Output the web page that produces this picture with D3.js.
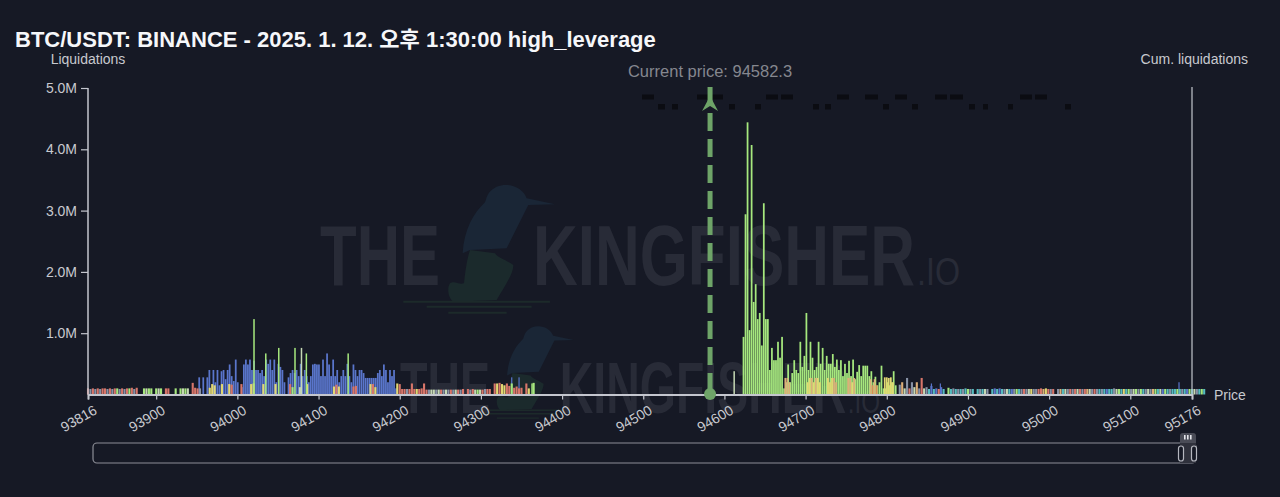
<!DOCTYPE html>
<html><head><meta charset="utf-8">
<script src="https://cdn.jsdelivr.net/npm/d3@7"></script>
<style>
html,body{margin:0;padding:0;background:#161925;}
svg{display:block;font-family:"Liberation Sans",Arial,sans-serif;}
</style></head><body><svg id="c" width="1280" height="497"></svg>
<script>
const titleText = "BTC/USDT: BINANCE - 2025. 1. 12. 오후 1:30:00 high_leverage";
const currentPrice = 94582.3;
const priceDomain = [93816, 95176];
const priceTicks = [93816,93900,94000,94100,94200,94300,94400,94500,94600,94700,94800,94900,95000,95100,95176];
const liqTicks = [1,2,3,4,5];

// Blue band, starts 93953, $2.5 bins (million USD)
const blueValues = [0.28,0,0.28,0,0.28,0.4,0,0.4,0.2,0.4,0.15,0.38,0.4,0.25,0.4,0.49,0.3,0.22,0.57,0.2,0,0.12,0.49,0.57,0.49,0.57,0.4,0.55,0.4,0.4,0.35,0.4,0.3,0.57,0.5,0.57,0.4,0.57,0.2,0.5,0.45,0.4,0.2,0,0.28,0.35,0.4,0.35,0.4,0.3,0.5,0.3,0.4,0.3,0.2,0.3,0.49,0.5,0.49,0.49,0.3,0.57,0.3,0.67,0.49,0.3,0.57,0.3,0.4,0.2,0.3,0.4,0.3,0.5,0.3,0.2,0.49,0.4,0.3,0.4,0.4,0.35,0.27,0.27,0.27,0.27,0.27,0.27,0.35,0.4,0.3,0.49,0.4,0.2,0.4,0.3,0.4,0.1];

// Narrow strips along the axis, $3 bins
const stripAColors = "sgsgsgssgsgslgsgslsgs..lwll.lwl.ss..l.lwlw.";
const stripAValues = [0.1,0.09,0.1,0.09,0.1,0.09,0.1,0.1,0.09,0.1,0.09,0.1,0.1,0.09,0.1,0.09,0.1,0.1,0.11,0.09,0.11,0,0,0.1,0.1,0.1,0.1,0,0.1,0.1,0.1,0,0.1,0.1,0,0,0.1,0,0.1,0.1,0.1,0.1,0];
const stripBColors = "sssg..syyy.yy.yys..ss..yyy..yy...ly....ysl.sw.yy....s....sysy.w..sss....yysy....y..sy";
const stripBValues = [0.19,0.11,0.1,0.1,0.1,0,0,0.11,0.17,0.15,0.16,0,0.17,0.17,0,0.17,0.16,0.12,0,0,0.17,0.16,0,0,0.17,0.18,0.17,0,0,0.17,0.18,0,0,0,0.17,0.16,0,0,0,0,0.17,0.12,0.16,0,0.12,0.14,0,0.17,0.16,0,0,0,0,0.15,0,0,0,0,0.13,0.16,0.13,0.17,0,0.1,0,0,0.13,0.14,0.12,0,0,0,0,0.17,0.17,0.12,0.17,0,0,0,0,0.17,0,0,0.18,0.16];
const stripCColors = "sssgsssyssssgwwgwsgwgsgwsgs.sgswlwsgss.sysyysslssss.sy.l";
const stripCValues = [0.17,0.09,0.09,0.09,0.09,0.18,0.09,0.09,0.09,0.1,0.18,0.08,0.08,0.08,0.08,0.08,0.08,0.08,0.08,0.08,0.08,0.08,0.08,0.08,0.08,0.08,0.09,0,0.09,0.08,0.09,0.08,0.08,0.08,0.08,0.09,0.09,0.09,0,0.18,0.18,0.19,0.17,0.15,0.18,0.14,0.18,0.11,0.13,0.1,0.11,0,0.18,0.1,0,0.19];
const stripDColors = "gpwgsgwpgswgtbtbsbt.ltgtgtgtlgt.tgtwg.tbtbtgwtbgltgsgwyggsspysgs.gptwgsgswsgspwgsgtgtbttgwltytlgwlgltgwgpltwbltgttltgtbltwgtlt";
const stripDValues = [0.16,0.2,0.1,0.27,0.1,0.2,0.12,0.2,0.1,0.27,0.1,0.12,0.09,0.14,0.09,0.1,0.09,0.12,0.09,0,0.11,0.09,0.1,0.09,0.09,0.09,0.09,0.1,0.09,0.09,0.09,0,0.09,0.09,0.09,0.09,0.09,0,0.09,0.1,0.09,0.1,0.09,0.09,0.09,0.09,0.09,0.09,0.09,0.09,0.09,0.09,0.09,0.09,0.09,0.09,0.09,0.09,0.1,0.09,0.1,0.09,0.09,0.09,0,0.09,0.09,0.09,0.09,0.09,0.09,0.09,0.09,0.09,0.09,0.09,0.09,0.09,0.09,0.09,0.09,0.09,0.09,0.09,0.09,0.09,0.09,0.09,0.1,0.09,0.09,0.09,0.09,0.09,0.09,0.09,0.09,0.09,0.09,0.09,0.09,0.09,0.09,0.09,0.09,0.09,0.09,0.09,0.09,0.09,0.09,0.09,0.09,0.09,0.09,0.09,0.09,0.09,0.09,0.09,0.09,0.09,0.09,0.09,0.09,0.09,0.09,0.09,0.09,0.09,0.09];

// Isolated spikes
const leftSpikePrices = [94020.5,94035,94051,94071,94079,94085,94136.5,94363,94612];
const leftSpikeValues = [1.23,0.67,0.76,0.76,0.76,0.67,0.67,0.18,0.38];
const leftSpikeColors = ["l","l","l","l","w","l","l","l","w"];
const blueSpikePrices = [94338,94347,94855,94866,95160];
const blueSpikeValues = [0.28,0.28,0.18,0.18,0.2];

// Green cluster, starts 94623.5, $2.5 bins
const greenValues = [0.94,2.94,4.44,1.05,4.07,1.51,1.8,1.23,1.33,0.8,3.12,1.23,1.23,0.4,0.76,0.56,0.56,0.86,0.6,0.94,0.1,0.2,0.49,0.2,0.35,0.56,0.4,0.35,0.86,0.45,0.63,1.33,0.4,0.86,0.6,0.4,0.45,0.86,0.5,0.76,0.4,0.63,0.5,0.5,0.66,0.45,0.57,0.4,0.56,0.3,0.5,0.35,0.55,0.3,0.57,0.25,0.37,0.48,0.3,0.47,0.47,0.47,0.3,0.38,0.2,0.29,0.15,0.2,0.47,0.1,0.1,0.2,0.15,0.2,0.38,0.15];

// Peach and yellow overlay, starts 94675, $2.5 bins
const peachColors = "ppp........yypypyy...yyypp.....ppyp.......popo...yyyyy";
const peachValues = [0.27,0.27,0.2,0,0,0,0,0,0,0,0,0.2,0.27,0.27,0.2,0.27,0.27,0.2,0,0,0,0.27,0.2,0.27,0.27,0.2,0,0,0,0,0,0.27,0.27,0.2,0.27,0,0,0,0,0,0,0,0.25,0.15,0.25,0.15,0,0,0,0.28,0.28,0.27,0.28,0.2];

// Legend marks above the plot
const legendRow1Start = [642,697,706,766,781,837,865,895,935,950,1020,1035];
const legendRow1End   = [654,706,723,778,793,849,878,907,947,963,1032,1047];
const legendRow2Start = [658,672,729,755,813,825,883,912,969,983,1008,1065];
const legendRow2End   = [665,678,735,761,819,831,889,918,975,988,1013,1071];

const palette = {s:"#d8766a",g:"#8892a6",l:"#a6e87e",w:"#c6d8b4",y:"#e2d872",t:"#56bcc0",b:"#5a76cc",p:"#dcae78",o:"#d98a58"};

const svg = d3.select("#c");
const x = d3.scaleLinear().domain(priceDomain).range([88,1192]);
const y = d3.scaleLinear().domain([0,5]).range([394.5,88]);

// watermark
function watermark(tx,ty,sx,sy){
  const g = svg.append("g").attr("transform",`translate(${tx},${ty}) scale(${sx},${sy})`)
    .attr("fill","#282b37").style("font-family",'"Liberation Sans Narrow","Liberation Sans"').style("font-weight","700");
  g.append("text").attr("x",0).attr("y",62).attr("font-size",86).attr("textLength",120).attr("lengthAdjust","spacingAndGlyphs").text("THE");
  g.append("text").attr("x",213).attr("y",62).attr("font-size",86).attr("textLength",382).attr("lengthAdjust","spacingAndGlyphs").text("KINGFISHER");
  g.append("text").attr("x",597).attr("y",62).attr("font-size",38).attr("font-weight",300).style("font-weight","400").attr("textLength",43).attr("lengthAdjust","spacingAndGlyphs").text(".IO");
}
function bird(transform){
  const g = svg.append("g").attr("transform",transform);
  g.append("path").attr("fill","#1a2636").attr("d","M735,103 L650,85 C640,55 600,35 560,50 C530,65 530,85 525,97 C490,130 462,180 458,250 L480,240 L590,235 L655,105 Z");
  g.append("path").attr("fill","#1b2a2c").attr("d","M480,240 C470,270 465,310 462,340 C445,345 435,330 420,340 C410,355 415,385 430,395 L560,390 C590,340 610,310 610,285 C590,270 565,265 555,250 Z");
  const ripple = [[280,720,395],[350,665,410],[415,590,428]];
  g.selectAll("line").data(ripple).join("line").attr("x1",d=>d[0]).attr("x2",d=>d[1]).attr("y1",d=>d[2]).attr("y2",d=>d[2]).attr("stroke","#1c2a2a").attr("stroke-width",6);
}
bird("translate(310,170) scale(0.3333)");
bird("translate(540,325) scale(0.24) translate(-595,-40)");
watermark(320,223,1,1);
watermark(400,360,0.75,0.85);

// bars
function bars(data,w){
  svg.append("g").selectAll("rect").data(data.filter(d=>d.v>0)).join("rect")
    .attr("x",d=>x(d.p)-w/2).attr("width",w)
    .attr("y",d=>y(d.v)).attr("height",d=>y(0)-y(d.v))
    .attr("fill",d=>d.c);
}
const binned = (start,step,vals,cols)=>vals.map((v,i)=>({p:start+i*step,v,c:cols?palette[cols[i]]:null})).filter(d=>d.c);
bars(blueValues.map((v,i)=>({p:93953+i*2.5,v,c:palette.b})),1.75);
bars(blueSpikePrices.map((p,i)=>({p,v:blueSpikeValues[i],c:palette.b})),1.2);
bars(binned(93816,3,stripAValues,stripAColors),2.1);
bars(binned(93945,3,stripBValues,stripBColors),2.1);
bars(binned(94200,3,stripCValues,stripCColors),2.1);
bars(binned(94816,3,stripDValues,stripDColors),2.1);
bars(greenValues.map((v,i)=>({p:94623.5+i*2.5,v,c:palette.l})),1.75);
bars(binned(94675,2.5,peachValues,peachColors),1.75);
bars(leftSpikePrices.map((p,i)=>({p,v:leftSpikeValues[i],c:palette[leftSpikeColors[i]]})),1.5);

// legend marks
function marks(starts,ends,top,h){
  svg.append("g").selectAll("rect").data(starts.map((s,i)=>[s,ends[i]])).join("rect")
    .attr("x",d=>d[0]).attr("width",d=>d[1]-d[0]).attr("y",top).attr("height",h).attr("fill","#0b0c12");
}
marks(legendRow1Start,legendRow1End,94.5,5);
marks(legendRow2Start,legendRow2End,104,5.5);

// axes
const axisColor="#c4c6ce";
const ax = svg.append("g").attr("transform","translate(0,394.5)")
  .call(d3.axisBottom(x).tickValues(priceTicks).tickFormat(d3.format("d")).tickSize(5).tickPadding(6));
ax.select(".domain").attr("stroke",axisColor).attr("stroke-width",2);
ax.selectAll(".tick line").attr("stroke",axisColor).attr("stroke-width",1.2);
ax.selectAll(".tick text").attr("fill","#c8c9cf").attr("font-size",14).style("font-family",'"Liberation Sans"')
  .attr("text-anchor","end").attr("dy","0.7em").attr("transform","rotate(-30) translate(-1,0)");

const ay = svg.append("g").attr("transform","translate(88,0)")
  .call(d3.axisLeft(y).tickValues(liqTicks).tickFormat(d=>d.toFixed(1)+"M").tickSize(7).tickPadding(4));
ay.select(".domain").attr("stroke",axisColor).attr("stroke-width",1.5).attr("d","M0,88V394.5");
ay.selectAll(".tick line").attr("stroke",axisColor).attr("stroke-width",1.2);
ay.selectAll(".tick text").attr("fill","#c8c9cf").attr("font-size",14).style("font-family",'"Liberation Sans"');

svg.append("line").attr("x1",1192).attr("x2",1192).attr("y1",87).attr("y2",394).attr("stroke",axisColor).attr("stroke-width",1.2);

// current price
const cpx = x(currentPrice);
svg.append("line").attr("x1",cpx).attr("x2",cpx).attr("y1",87).attr("y2",394.5)
  .attr("stroke","#6ea468").attr("stroke-width",5).attr("stroke-dasharray","18 8");
svg.append("path").attr("fill","#6ea468").attr("d",`M${cpx},96 L${cpx+8},111 L${cpx},106 L${cpx-8},111 Z`);
svg.append("circle").attr("cx",cpx).attr("cy",394).attr("r",6).attr("fill","#6ea468");

// text
const t=(s,xx,yy,size,fill,anchor,weight)=>svg.append("text").attr("x",xx).attr("y",yy).attr("font-size",size).attr("fill",fill).attr("text-anchor",anchor||"start").attr("font-weight",weight||400).text(s);
t(titleText,15,47,22,"#f6f7fa","start",700).style("font-family",'"Liberation Sans","Noto Sans CJK KR"');
t("Liquidations",88,64,14,"#c8c9cf","middle");
t("Cum. liquidations",1248,64,14,"#c8c9cf","end");
t("Price",1214,400,14,"#c8c9cf");
t("Current price: "+currentPrice,cpx,77,16.5,"#85878f","middle");

// slider
const sl=svg.append("g");
sl.append("rect").attr("x",93).attr("y",443).attr("width",1103).attr("height",20).attr("rx",4).attr("fill","none").attr("stroke","#8c8e97").attr("stroke-width",1.2);
sl.append("rect").attr("x",1180).attr("y",443).attr("width",16).attr("height",20).attr("fill","#2f313c");
sl.append("path").attr("fill","#4a4c57").attr("d","M1180,443 V436 Q1180,433 1183,433 H1193 Q1196,433 1196,436 V443 Z");
[1184,1187,1190].forEach(v=>sl.append("rect").attr("x",v).attr("y",435).attr("width",1.6).attr("height",4.5).attr("fill","#e4e5ea"));
[1178.5,1191.5].forEach(v=>sl.append("rect").attr("x",v).attr("y",446).attr("width",5).attr("height",15).attr("rx",2.5).attr("fill","#161925").attr("stroke","#b5b7bf").attr("stroke-width",1.2));
</script></body></html>
